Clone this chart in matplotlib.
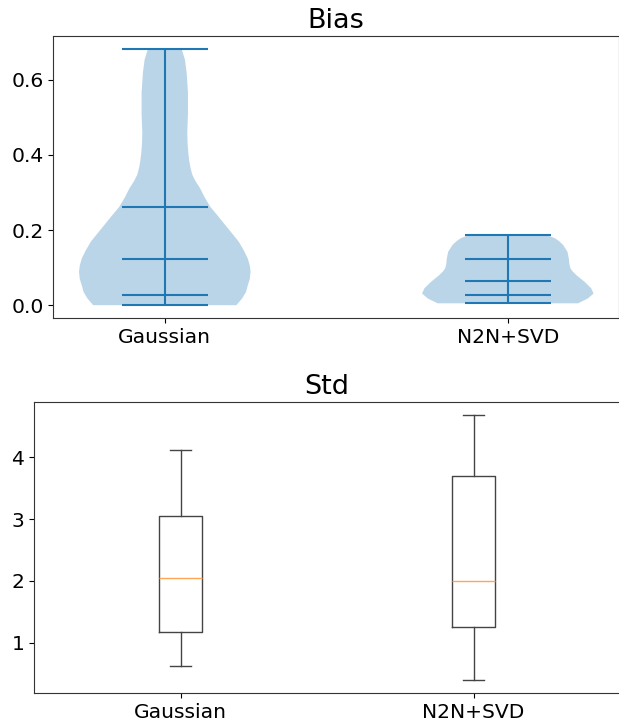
import numpy as np
import matplotlib.pyplot as plt

methods = ["Gaussian", "N2N+SVD"]

# bias density outline (value, relative half-width)
gauss_coords = [0.0, 0.018, 0.035, 0.053, 0.07, 0.089, 0.105, 0.124, 0.145,
                0.169, 0.19, 0.213, 0.238, 0.262, 0.287, 0.311, 0.33,
                0.347, 0.365, 0.385, 0.405, 0.43, 0.458, 0.511, 0.565,
                0.618, 0.653, 0.682]
gauss_dens = [71, 76.7, 80.5, 82.3, 84.3, 85, 84.3, 82.3, 78.5,
              73.3, 67, 60, 52.5, 45, 39.5, 35, 30.5,
              27.3, 25.5, 24.2, 23.3, 22.6, 22.3, 23, 23,
              21.7, 20, 16.7]
gauss_lines = [0.0, 0.027, 0.124, 0.262, 0.682]

n2n_coords = [0.005, 0.018, 0.031, 0.045, 0.062, 0.08, 0.09, 0.098, 0.11,
              0.124, 0.142, 0.16, 0.17, 0.178, 0.184, 0.188]
n2n_dens = [71, 81, 86.7, 84.3, 77.7, 69.3, 65.5, 63.3, 62.2,
            61.7, 60.3, 56, 52, 47.7, 42, 36]
n2n_lines = [0.005, 0.027, 0.064, 0.123, 0.188]

# std box stats: whislo, q1, med, q3, whishi
gauss_box = [0.63, 1.18, 2.04, 3.05, 4.11]
n2n_box = [0.40, 1.25, 2.00, 3.70, 4.68]

plt.rcParams['font.size'] = 14.6

fig = plt.figure(figsize=(6.19, 7.18), dpi=100)
ax1 = fig.add_axes([53.3/619, 1-318/718, 566/619, 282/718])
ax2 = fig.add_axes([34/619, 1-693/718, 586/619, 291/718])
for ax in (ax1, ax2):
    for s in ax.spines.values():
        s.set_color('#333333')

vpstats = []
for c, d, q in [(gauss_coords, gauss_dens, gauss_lines),
                (n2n_coords, n2n_dens, n2n_lines)]:
    vpstats.append(dict(coords=np.array(c), vals=np.array(d, dtype=float),
                        mean=q[2], median=q[2], min=q[0], max=q[4],
                        quantiles=[q[1], q[3]]))
ax1.violin(vpstats, positions=[1, 2], widths=0.5, showmeans=False,
           showextrema=True, showmedians=True)
ax1.set_xticks([1, 2], methods)
ax1.set_yticks([0.0, 0.2, 0.4, 0.6])
ax1.set_title("Bias", fontsize=19.5)

bstats = []
for name, b in zip(methods, [gauss_box, n2n_box]):
    bstats.append(dict(label=name, whislo=b[0], q1=b[1], med=b[2], q3=b[3],
                       whishi=b[4], fliers=[]))
line_col = '#444444'
ax2.bxp(bstats, positions=[1, 2],
        boxprops=dict(color=line_col), whiskerprops=dict(color=line_col),
        capprops=dict(color=line_col), medianprops=dict(color='#ffa556'))
ax2.set_xlim(0.5, 2.5)
ax2.set_yticks([1, 2, 3, 4])
ax2.set_title("Std", fontsize=19.5)

fig.savefig("out.png", dpi=100)
